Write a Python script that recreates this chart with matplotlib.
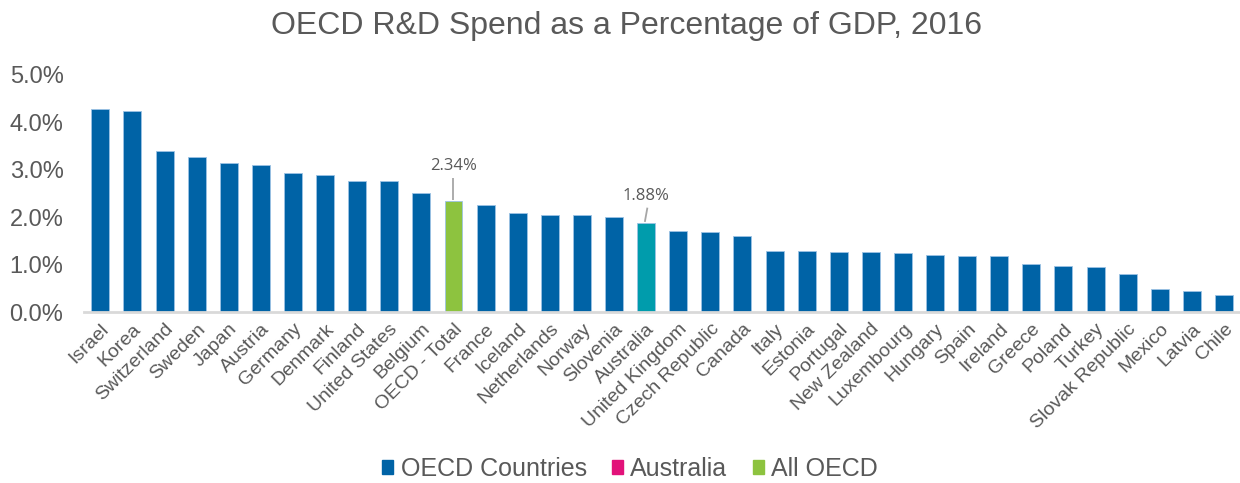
import matplotlib
matplotlib.use("Agg")
import matplotlib.pyplot as plt
from matplotlib.patches import Patch

countries = ["Israel", "Korea", "Switzerland", "Sweden", "Japan", "Austria", "Germany",
             "Denmark", "Finland", "United States", "Belgium", "OECD - Total", "France",
             "Iceland", "Netherlands", "Norway", "Slovenia", "Australia", "United Kingdom",
             "Czech Republic", "Canada", "Italy", "Estonia", "Portugal", "New Zealand",
             "Luxembourg", "Hungary", "Spain", "Ireland", "Greece", "Poland", "Turkey",
             "Slovak Republic", "Mexico", "Latvia", "Chile"]
values = [4.27, 4.24, 3.39, 3.27, 3.15, 3.10, 2.94, 2.88, 2.76, 2.76, 2.50, 2.34, 2.26,
          2.09, 2.04, 2.04, 2.01, 1.88, 1.70, 1.69, 1.61, 1.29, 1.28, 1.27, 1.27, 1.25,
          1.21, 1.19, 1.18, 1.01, 0.97, 0.95, 0.80, 0.49, 0.44, 0.36]
yticks = [0, 1, 2, 3, 4, 5]
title = "OECD R&D Spend as a Percentage of GDP, 2016"
legend_labels = ["OECD Countries", "Australia", "All OECD"]

BLUE = "#0063A6"
TEAL = "#009CAC"
GREEN = "#8DC33F"
MAGENTA = "#E2127A"
TXT = "#595959"

colors = []
for c in countries:
    if c == "OECD - Total":
        colors.append(GREEN)
    elif c == "Australia":
        colors.append(TEAL)
    else:
        colors.append(BLUE)

plt.rcParams['font.family'] = ['Liberation Sans', 'DejaVu Sans']

fig = plt.figure(figsize=(12.4, 4.83), dpi=100)
ax = fig.add_axes([0.068, 0.354, 0.932, 0.491])

x = list(range(len(countries)))
ax.bar(x, values, width=0.56, color=colors, edgecolor="#9CC3E4", linewidth=0.6, zorder=2)

ax.set_xlim(-0.5, len(countries) - 0.5)
ax.set_ylim(0, 5)
ax.set_yticks(yticks)
ax.set_yticklabels([f"{v:.1f}%" for v in yticks], fontsize=17, color=TXT)
ax.set_xticks(x)
ax.set_xticklabels(countries, rotation=45, ha="right", rotation_mode="anchor",
                   fontsize=14, color=TXT)
ax.tick_params(axis="both", length=0)
ax.tick_params(axis="x", pad=6)
ax.tick_params(axis="y", pad=15)
for s in ["top", "right", "left"]:
    ax.spines[s].set_visible(False)
ax.spines["bottom"].set_color("#D9D9D9")
ax.spines["bottom"].set_linewidth(2)

# annotations: (name, line top offset, text baseline offset, line slant)
for name, line_dy, text_dy, slant in [("OECD - Total", 0.49, 0.66, 0.0),
                                       ("Australia", 0.32, 0.49, 0.08)]:
    i = countries.index(name)
    v = values[i]
    ax.plot([i - slant / 2, i + slant / 2], [v + 0.02, v + line_dy],
            color="#A6A6A6", lw=1.3, solid_capstyle="butt", zorder=3)
    ax.text(i, v + text_dy, f"{v:.2f}%", ha="center", va="baseline", fontsize=12,
            color=TXT, family=["Open Sans", "DejaVu Sans"])

fig.suptitle(title, fontsize=23, color=TXT, x=0.505, y=0.978)

handles = [Patch(color=BLUE), Patch(color=MAGENTA), Patch(color=GREEN)]
fig.legend(handles, legend_labels, loc="center", ncol=3, frameon=False,
           fontsize=18, labelcolor=TXT, bbox_to_anchor=(0.508, 0.029),
           handlelength=0.45, handleheight=0.45, handletextpad=0.3, columnspacing=1.0)

fig.savefig("out.png", dpi=100)
